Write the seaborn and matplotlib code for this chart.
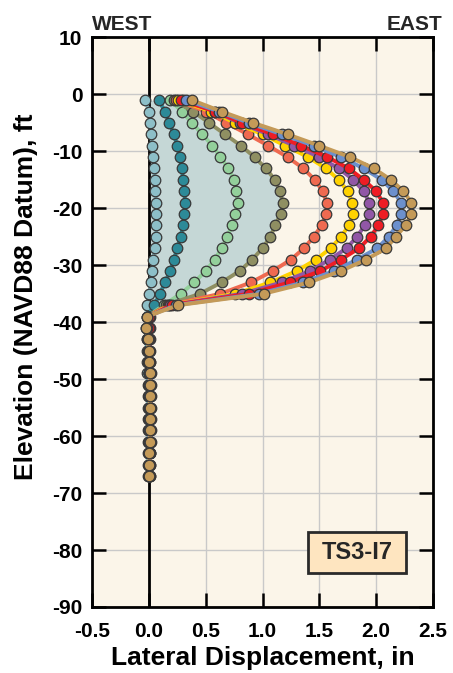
import matplotlib
matplotlib.use("Agg")
import matplotlib.pyplot as plt
import numpy as np
import pandas as pd
import seaborn as sns
from matplotlib.patches import Rectangle

# ---------------- data ----------------
elevation = [-1, -3, -5, -7, -9, -11, -13, -15, -17, -19, -21, -23, -25, -27, -29, -31, -33, -35, -37,
             -39, -41, -43, -45, -47, -49, -51, -53, -55, -57, -59, -61, -63, -65, -67]

disp_1 = [-0.03, 0.00, 0.01, 0.02, 0.03, 0.04, 0.045, 0.05, 0.055, 0.06, 0.065, 0.065, 0.06, 0.05, 0.04, 0.03, 0.015, 0.005, -0.02,
          -0.02, -0.025, -0.02, -0.02, -0.015, -0.015, -0.01, -0.01, -0.01, -0.01, -0.01, -0.01, -0.01, -0.01, -0.01]
disp_2 = [0.09, 0.14, 0.18, 0.22, 0.25, 0.27, 0.29, 0.30, 0.31, 0.32, 0.31, 0.30, 0.28, 0.25, 0.22, 0.19, 0.14, 0.10, 0.045,
          -0.01, -0.02, -0.015, -0.01, -0.01, 0.0, 0.0, 0.0, 0.0, 0.0, 0.0, 0.0, 0.0, 0.0, 0.0]
disp_3 = [0.19, 0.29, 0.38, 0.47, 0.56, 0.63, 0.70, 0.75, 0.77, 0.78, 0.76, 0.73, 0.69, 0.64, 0.58, 0.50, 0.40, 0.28, 0.13,
          -0.01, -0.02, -0.01, 0.0, 0.0, 0.0, 0.005, 0.005, 0.005, 0.005, 0.005, 0.005, 0.005, 0.005, 0.005]
disp_4 = [0.22, 0.39, 0.53, 0.67, 0.81, 0.93, 1.03, 1.11, 1.15, 1.18, 1.16, 1.11, 1.07, 1.00, 0.91, 0.80, 0.64, 0.45, 0.15,
          -0.01, -0.02, -0.01, 0.0, 0.0, 0.005, 0.005, 0.005, 0.005, 0.005, 0.005, 0.005, 0.005, 0.005, 0.005]
disp_5 = [0.24, 0.50, 0.68, 0.87, 1.05, 1.22, 1.36, 1.46, 1.53, 1.565, 1.56, 1.52, 1.45, 1.365, 1.25, 1.09, 0.90, 0.63, 0.17,
          -0.01, -0.015, -0.01, 0.0, 0.0, 0.005, 0.005, 0.005, 0.01, 0.005, 0.005, 0.005, 0.005, 0.005, 0.005]
disp_6 = [0.26, 0.55, 0.76, 1.00, 1.20, 1.40, 1.56, 1.67, 1.75, 1.79, 1.80, 1.76, 1.69, 1.60, 1.47, 1.30, 1.07, 0.76, 0.18,
          0.0, -0.01, 0.0, 0.0, 0.005, 0.01, 0.01, 0.01, 0.01, 0.01, 0.01, 0.01, 0.01, 0.005, 0.005]
disp_7 = [0.30, 0.58, 0.80, 1.05, 1.28, 1.50, 1.67, 1.80, 1.89, 1.94, 1.94, 1.90, 1.83, 1.74, 1.59, 1.42, 1.17, 0.82, 0.19,
          0.01, 0.01, 0.01, 0.01, 0.01, 0.015, 0.015, 0.015, 0.015, 0.015, 0.015, 0.015, 0.01, 0.01, 0.01]
disp_8 = [0.28, 0.585, 0.82, 1.09, 1.34, 1.57, 1.76, 1.89, 2.00, 2.06, 2.06, 2.02, 1.95, 1.85, 1.69, 1.51, 1.24, 0.88, 0.20,
          0.0, 0.0, 0.0, 0.005, 0.01, 0.01, 0.01, 0.01, 0.01, 0.01, 0.01, 0.01, 0.01, 0.01, 0.01]
disp_9 = [0.33, 0.62, 0.88, 1.17, 1.45, 1.69, 1.89, 2.05, 2.15, 2.22, 2.22, 2.18, 2.11, 2.01, 1.83, 1.63, 1.36, 0.97, 0.24,
          -0.015, -0.02, -0.01, 0.0, 0.0, 0.005, 0.005, 0.005, 0.01, 0.005, 0.005, 0.005, 0.005, 0.005, 0.005]
disp_10 = [0.38, 0.64, 0.92, 1.22, 1.50, 1.77, 1.98, 2.13, 2.24, 2.31, 2.31, 2.26, 2.17, 2.09, 1.91, 1.69, 1.41, 1.01, 0.26,
           -0.02, -0.025, -0.01, 0.0, 0.0, 0.01, 0.01, 0.01, 0.01, 0.01, 0.01, 0.01, 0.005, 0.005, 0.005]

series_names = ["R1", "R2", "R3", "R4", "R5", "R6", "R7", "R8", "R9", "R10"]
series_colors = ["#8DBFC8", "#2D8A98", "#93D09B", "#8F8F62", "#EF6A50",
                 "#FFD200", "#9157A6", "#EE1D24", "#6C90CD", "#C49A58"]
all_disp = [disp_1, disp_2, disp_3, disp_4, disp_5, disp_6, disp_7, disp_8, disp_9, disp_10]

x_ticks = [-0.5, 0.0, 0.5, 1.0, 1.5, 2.0, 2.5]
x_ticklabels = ["-0.5", "0.0", "0.5", "1.0", "1.5", "2.0", "2.5"]
y_ticks = [-90, -80, -70, -60, -50, -40, -30, -20, -10, 0, 10]
y_ticklabels = ["-90", "-80", "-70", "-60", "-50", "-40", "-30", "-20", "-10", "0", "10"]

rows = []
for name, d in zip(series_names, all_disp):
    for e, v in zip(elevation, d):
        rows.append({"series": name, "disp": v, "elev": e})
df = pd.DataFrame(rows)

# ---------------- style ----------------
sns.set_theme(style="ticks")
plt.rcParams["font.family"] = ["Liberation Sans", "DejaVu Sans"]
plt.rcParams["font.weight"] = "bold"
plt.rcParams["axes.unicode_minus"] = False

fig = plt.figure(figsize=(4.53, 6.73), dpi=100)
fig.patch.set_facecolor("white")
ax = fig.add_axes([0.2031, 0.0981, 0.7528, 0.8462])
ax.set_facecolor("#FBF5E9")

# shaded zone under the 4th profile
n_top = 19
ax.fill_betweenx(elevation[:n_top], 0, disp_4[:n_top], color="#C5D7D6", zorder=1, lw=0)

ax.axvline(0, color="black", lw=2.0, zorder=2)

sns.lineplot(data=df, x="disp", y="elev", hue="series", hue_order=series_names,
             palette=series_colors, sort=False, estimator=None, marker="o",
             markersize=7.6, markeredgecolor="#383838", markeredgewidth=0.9,
             linewidth=2.8, legend=False, ax=ax, zorder=3)

ax.set_xlim(-0.5, 2.5)
ax.set_ylim(-90, 10)
ax.set_xticks(x_ticks)
ax.set_xticklabels(x_ticklabels)
ax.set_yticks(y_ticks)
ax.set_yticklabels(y_ticklabels)
ax.grid(True, color="#C9C9C9", lw=1.0)
ax.set_axisbelow(True)

for s in ax.spines.values():
    s.set_visible(True)
    s.set_color("black")
    s.set_linewidth(2.0)

ax.tick_params(axis="both", direction="in", length=10, width=1.8, color="black",
               top=True, right=True, labelsize=15, labelcolor="black")
ax.tick_params(axis="x", pad=11)
ax.tick_params(axis="y", pad=7)

ax.set_xlabel("Lateral Displacement, in", fontsize=19, fontweight="bold", color="black")
ax.set_ylabel("Elevation (NAVD88 Datum), ft", fontsize=19, fontweight="bold", color="black")
ax.xaxis.set_label_coords(0.5, -0.068)
ax.yaxis.set_label_coords(-0.158, 0.545)

fig.text(92 / 453, 1 - 29.5 / 673, "WEST", ha="left", va="baseline", fontsize=15, fontweight="bold")
fig.text(442 / 453, 1 - 29.5 / 673, "EAST", ha="right", va="baseline", fontsize=15, fontweight="bold")

ax.add_patch(Rectangle((0.634, 0.0602), 0.286, 0.072, transform=ax.transAxes,
                       facecolor="#FEE5C0", edgecolor="#2a2a2a", lw=2.0, zorder=5))
ax.text(0.777, 0.0962, "TS3-I7", transform=ax.transAxes, ha="center", va="center",
        fontsize=17, fontweight="bold", zorder=6)

fig.savefig("out.png", dpi=100, facecolor="white")
